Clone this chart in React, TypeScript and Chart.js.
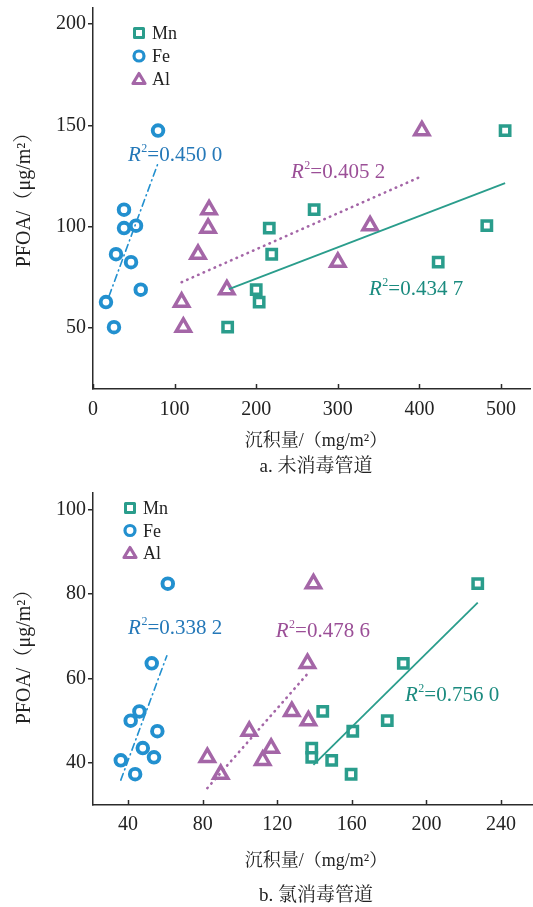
import React, { useEffect, useRef } from "react";
import { Chart, registerables } from "chart.js";

Chart.register(...registerables);

const SERIF = "'Liberation Serif', 'Times New Roman', serif";
const CJK = "'Liberation Serif', 'Noto Serif CJK SC', 'Noto Sans CJK SC', serif";

const TEAL = "#2a9d8c";
const BLUE = "#2290cf";
const PURPLE = "#a466a7";
const TEAL_T = "#1b8b7f";
const BLUE_T = "#2478b8";
const PURPLE_T = "#9b4f97";
const AXIS = "#2b2b2b";
const TXT = "#222222";

const seriesNames = ["Mn", "Fe", "Al"];

// ---------- Panel a: 未消毒管道 ----------
const aMnX = [505, 271, 216, 482.6, 219, 423, 200, 203.6, 165];
const aMnY = [147.5, 108.5, 99.4, 100.6, 86.5, 82.6, 69.0, 62.9, 50.5];
const aFeX = [79.7, 38, 38, 52.7, 28.2, 46.6, 58.5, 15.9, 25.7];
const aFeY = [147.5, 108.5, 99.4, 100.6, 86.5, 82.6, 69.0, 62.9, 50.5];
const aAlX = [142.2, 141, 403, 339.5, 128.7, 164, 108.6, 110.7, 300];
const aAlY = [108.5, 99.4, 147.5, 100.6, 86.5, 69.0, 62.9, 50.5, 82.6];
const aMnFitX = [166.5, 505];
const aMnFitY = [69.3, 121.6];
const aFeFitX = [19.6, 79.7];
const aFeFitY = [65.8, 131.4];
const aAlFitX = [108.6, 403];
const aAlFitY = [72.7, 125];
const aR2 = ["0.434 7", "0.450 0", "0.405 2"]; // Mn, Fe, Al
const aXTicks = [0, 100, 200, 300, 400, 500];
const aYTicks = [50, 100, 150, 200];

// ---------- Panel b: 氯消毒管道 ----------
const bMnX = [227.5, 187.6, 144.4, 179.0, 160.5, 138.5, 138.5, 149.2, 159.6];
const bMnY = [82.5, 63.6, 52.2, 50.0, 47.5, 43.5, 41.3, 40.6, 37.3];
const bFeX = [61.3, 52.7, 46.1, 41.4, 55.7, 47.9, 53.9, 36.1, 43.8];
const bFeY = [82.5, 63.6, 52.2, 50.0, 47.5, 43.5, 41.3, 40.6, 37.3];
const bAlX = [139.4, 136.2, 127.8, 136.7, 105.0, 116.7, 82.5, 112.2, 89.7];
const bAlY = [82.5, 63.6, 52.2, 50.0, 47.5, 43.5, 41.3, 40.6, 37.3];
const bMnFitX = [139.4, 227.5];
const bMnFitY = [39.5, 78.0];
const bFeFitX = [36.1, 60.8];
const bFeFitY = [35.9, 65.4];
const bAlFitX = [82.5, 137.6];
const bAlFitY = [34.0, 61.8];
const bR2 = ["0.756 0", "0.338 2", "0.478 6"]; // Mn, Fe, Al
const bXTicks = [40, 80, 120, 160, 200, 240];
const bYTicks = [40, 60, 80, 100];

const xTitle = "沉积量/（mg/m²）";
const yTitle = "PFOA/（μg/m²）";

type Panel = {
  w: number;
  h: number;
  padTop: number;
  padRight: number;
  axisBottom: number;
  xLabelPad: number;
  xMin: number;
  xMax: number;
  yMin: number;
  yMax: number;
  xTicks: number[];
  yTicks: number[];
  mn: [number[], number[]];
  fe: [number[], number[]];
  al: [number[], number[]];
  mnFit: [number[], number[]];
  feFit: [number[], number[]];
  alFit: [number[], number[]];
  r2: string[];
  r2Pos: [number, number][]; // data coords (left x, middle y) for Mn, Fe, Al
  legend: { x: number; y0: number; dy: number; tx: number };
  yTitleY: number;
  xTitleY: number;
  captionY: number;
  caption: string;
};

const panelA: Panel = {
  w: 533,
  h: 480,
  padTop: 8,
  padRight: 3,
  axisBottom: 389,
  xLabelPad: 1,
  xMin: 0,
  xMax: 535.5,
  yMin: 20,
  yMax: 208,
  xTicks: aXTicks,
  yTicks: aYTicks,
  mn: [aMnX, aMnY],
  fe: [aFeX, aFeY],
  al: [aAlX, aAlY],
  mnFit: [aMnFitX, aMnFitY],
  feFit: [aFeFitX, aFeFitY],
  alFit: [aAlFitX, aAlFitY],
  r2: aR2,
  r2Pos: [
    [338.2, 69.8],
    [42.9, 135.9],
    [242.6, 127.5],
  ],
  legend: { x: 139, y0: 33, dy: 23, tx: 152 },
  yTitleY: 195,
  xTitleY: 441,
  captionY: 467,
  caption: "a. 未消毒管道",
};

const panelB: Panel = {
  w: 533,
  h: 427,
  padTop: 13,
  padRight: 1,
  axisBottom: 325,
  xLabelPad: 0,
  xMin: 21.2,
  xMax: 256.6,
  yMin: 30,
  yMax: 104,
  xTicks: bXTicks,
  yTicks: bYTicks,
  mn: [bMnX, bMnY],
  fe: [bFeX, bFeY],
  al: [bAlX, bAlY],
  mnFit: [bMnFitX, bMnFitY],
  feFit: [bFeFitX, bFeFitY],
  alFit: [bAlFitX, bAlFitY],
  r2: bR2,
  r2Pos: [
    [188.5, 56.4],
    [40, 72.1],
    [119.2, 71.5],
  ],
  legend: { x: 130, y0: 28, dy: 22.5, tx: 143 },
  yTitleY: 172,
  xTitleY: 381,
  captionY: 416,
  caption: "b. 氯消毒管道",
};

function pts(xs: number[], ys: number[]) {
  return xs.map((x, i) => ({ x, y: ys[i] }));
}

function drawR2(ctx: CanvasRenderingContext2D, x: number, yMid: number, value: string, color: string) {
  ctx.save();
  ctx.fillStyle = color;
  ctx.textAlign = "left";
  ctx.textBaseline = "alphabetic";
  const base = yMid + 7;
  ctx.font = `italic 21px ${SERIF}`;
  ctx.fillText("R", x, base);
  let w = ctx.measureText("R").width;
  ctx.font = `12px ${SERIF}`;
  ctx.fillText("2", x + w + 0.5, base - 9);
  w += ctx.measureText("2").width + 0.5;
  ctx.font = `21px ${SERIF}`;
  ctx.fillText("=" + value, x + w, base);
  ctx.restore();
}

function drawLegend(ctx: CanvasRenderingContext2D, p: Panel) {
  const { x, y0, dy, tx } = p.legend;
  ctx.save();
  ctx.lineJoin = "round";
  let y = y0;
  ctx.strokeStyle = TEAL;
  ctx.fillStyle = "#fff";
  ctx.lineWidth = 3;
  ctx.fillRect(x - 4.5, y - 4.5, 9, 9);
  ctx.strokeRect(x - 4.5, y - 4.5, 9, 9);
  y = y0 + dy;
  ctx.strokeStyle = BLUE;
  ctx.lineWidth = 3.2;
  ctx.beginPath();
  ctx.arc(x, y, 5, 0, Math.PI * 2);
  ctx.fill();
  ctx.stroke();
  y = y0 + 2 * dy;
  ctx.strokeStyle = PURPLE;
  ctx.lineWidth = 3.2;
  ctx.beginPath();
  ctx.moveTo(x, y - 5.5);
  ctx.lineTo(x + 6, y + 4.5);
  ctx.lineTo(x - 6, y + 4.5);
  ctx.closePath();
  ctx.fill();
  ctx.stroke();
  ctx.fillStyle = TXT;
  ctx.font = `18px ${SERIF}`;
  ctx.textAlign = "left";
  ctx.textBaseline = "middle";
  seriesNames.forEach((n, i) => {
    ctx.fillText(n, tx, y0 + i * dy + 1.5);
  });
  ctx.restore();
}

function zeroPad(s: any) {
  s.paddingLeft = 0;
  s.paddingRight = 0;
  s.paddingTop = 0;
  s.paddingBottom = 0;
}

function makeChart(canvas: HTMLCanvasElement, p: Panel) {
  const overlay = {
    id: "overlay",
    afterDraw(chart: any) {
      const ctx: CanvasRenderingContext2D = chart.ctx;
      const xs = chart.scales.x;
      const ys = chart.scales.y;
      const ca = chart.chartArea;
      ctx.save();
      ctx.strokeStyle = AXIS;
      ctx.lineWidth = 1.5;
      p.xTicks.forEach((v) => {
        const px = Math.round(xs.getPixelForValue(v)) + 0.5;
        ctx.beginPath();
        ctx.moveTo(px, ca.bottom);
        ctx.lineTo(px, ca.bottom - 5);
        ctx.stroke();
      });
      ctx.restore();
      const cols = [TEAL_T, BLUE_T, PURPLE_T];
      p.r2.forEach((val, i) => {
        const [dx, dyv] = p.r2Pos[i];
        drawR2(ctx, xs.getPixelForValue(dx), ys.getPixelForValue(dyv), val, cols[i]);
      });
      drawLegend(ctx, p);
      ctx.save();
      ctx.fillStyle = TXT;
      ctx.font = `20px ${CJK}`;
      ctx.textAlign = "center";
      ctx.textBaseline = "middle";
      ctx.translate(25, p.yTitleY);
      ctx.rotate(-Math.PI / 2);
      ctx.fillText(yTitle, 0, 0);
      ctx.restore();
      ctx.save();
      ctx.fillStyle = TXT;
      ctx.textAlign = "center";
      ctx.textBaseline = "middle";
      ctx.font = `18px ${CJK}`;
      ctx.fillText(xTitle, 316, p.xTitleY);
      ctx.font = `19px ${CJK}`;
      ctx.fillText(p.caption, 316, p.captionY);
      ctx.restore();
    },
  };

  const pointDs = (label: string, d: [number[], number[]], color: string, style: string, r: number, bw: number) => ({
    label,
    data: pts(d[0], d[1]),
    showLine: false,
    pointStyle: style,
    pointRadius: r,
    pointBorderWidth: bw,
    pointBorderColor: color,
    pointBackgroundColor: "#ffffff",
    borderColor: color,
    backgroundColor: "#ffffff",
  });
  const lineDs = (label: string, d: [number[], number[]], color: string, dash: number[], bw: number) => ({
    label,
    data: pts(d[0], d[1]),
    showLine: true,
    pointRadius: 0,
    borderColor: color,
    borderWidth: bw,
    borderDash: dash,
    borderCapStyle: dash.length ? "round" : "butt",
    fill: false,
  });

  return new Chart(canvas, {
    type: "scatter",
    data: {
      datasets: [
        lineDs("Mn fit", p.mnFit, TEAL, [], 1.8),
        lineDs("Fe fit", p.feFit, BLUE, [7, 4, 1, 4], 1.6),
        lineDs("Al fit", p.alFit, PURPLE, [0.5, 5.5], 2.6),
        pointDs("Mn", p.mn, TEAL, "rect", 6.6, 3.5),
        pointDs("Fe", p.fe, BLUE, "circle", 5.3, 3.9),
        pointDs("Al", p.al, PURPLE, "triangle", 8.2, 3.5),
      ] as any,
    },
    options: {
      responsive: false,
      maintainAspectRatio: false,
      animation: false,
      events: [],
      layout: { autoPadding: false, padding: { top: p.padTop, right: p.padRight, left: 0, bottom: 0 } },
      plugins: { legend: { display: false }, tooltip: { enabled: false } },
      scales: {
        x: {
          type: "linear",
          min: p.xMin,
          max: p.xMax,
          afterBuildTicks: (s: any) => {
            s.ticks = p.xTicks.map((v) => ({ value: v }));
          },
          afterFit: (s: any) => {
            s.height = p.h - p.axisBottom;
            zeroPad(s);
          },
          grid: { display: false },
          border: { display: true, color: AXIS, width: 1.5 },
          ticks: {
            padding: p.xLabelPad,
            maxRotation: 0,
            autoSkip: false,
            color: TXT,
            font: { family: SERIF, size: 20 },
          },
        },
        y: {
          type: "linear",
          min: p.yMin,
          max: p.yMax,
          afterBuildTicks: (s: any) => {
            s.ticks = p.yTicks.map((v) => ({ value: v }));
          },
          afterFit: (s: any) => {
            s.width = 93;
            zeroPad(s);
          },
          grid: { display: true, drawOnChartArea: false, drawTicks: true, tickLength: 5, color: AXIS, lineWidth: 1.5 },
          border: { display: true, color: AXIS, width: 1.5 },
          ticks: {
            padding: 2,
            color: TXT,
            font: { family: SERIF, size: 20 },
          },
        },
      },
    } as any,
    plugins: [overlay],
  });
}

export default function App() {
  const refA = useRef<HTMLCanvasElement>(null);
  const refB = useRef<HTMLCanvasElement>(null);

  useEffect(() => {
    const ca = makeChart(refA.current!, panelA);
    const cb = makeChart(refB.current!, panelB);
    return () => {
      ca.destroy();
      cb.destroy();
    };
  }, []);

  return (
    <div style={{ position: "absolute", left: 0, top: 0, width: 533, height: 907, background: "#fff" }}>
      <canvas ref={refA} width={533} height={480} style={{ display: "block", width: 533, height: 480 }} />
      <canvas ref={refB} width={533} height={427} style={{ display: "block", width: 533, height: 427 }} />
    </div>
  );
}
